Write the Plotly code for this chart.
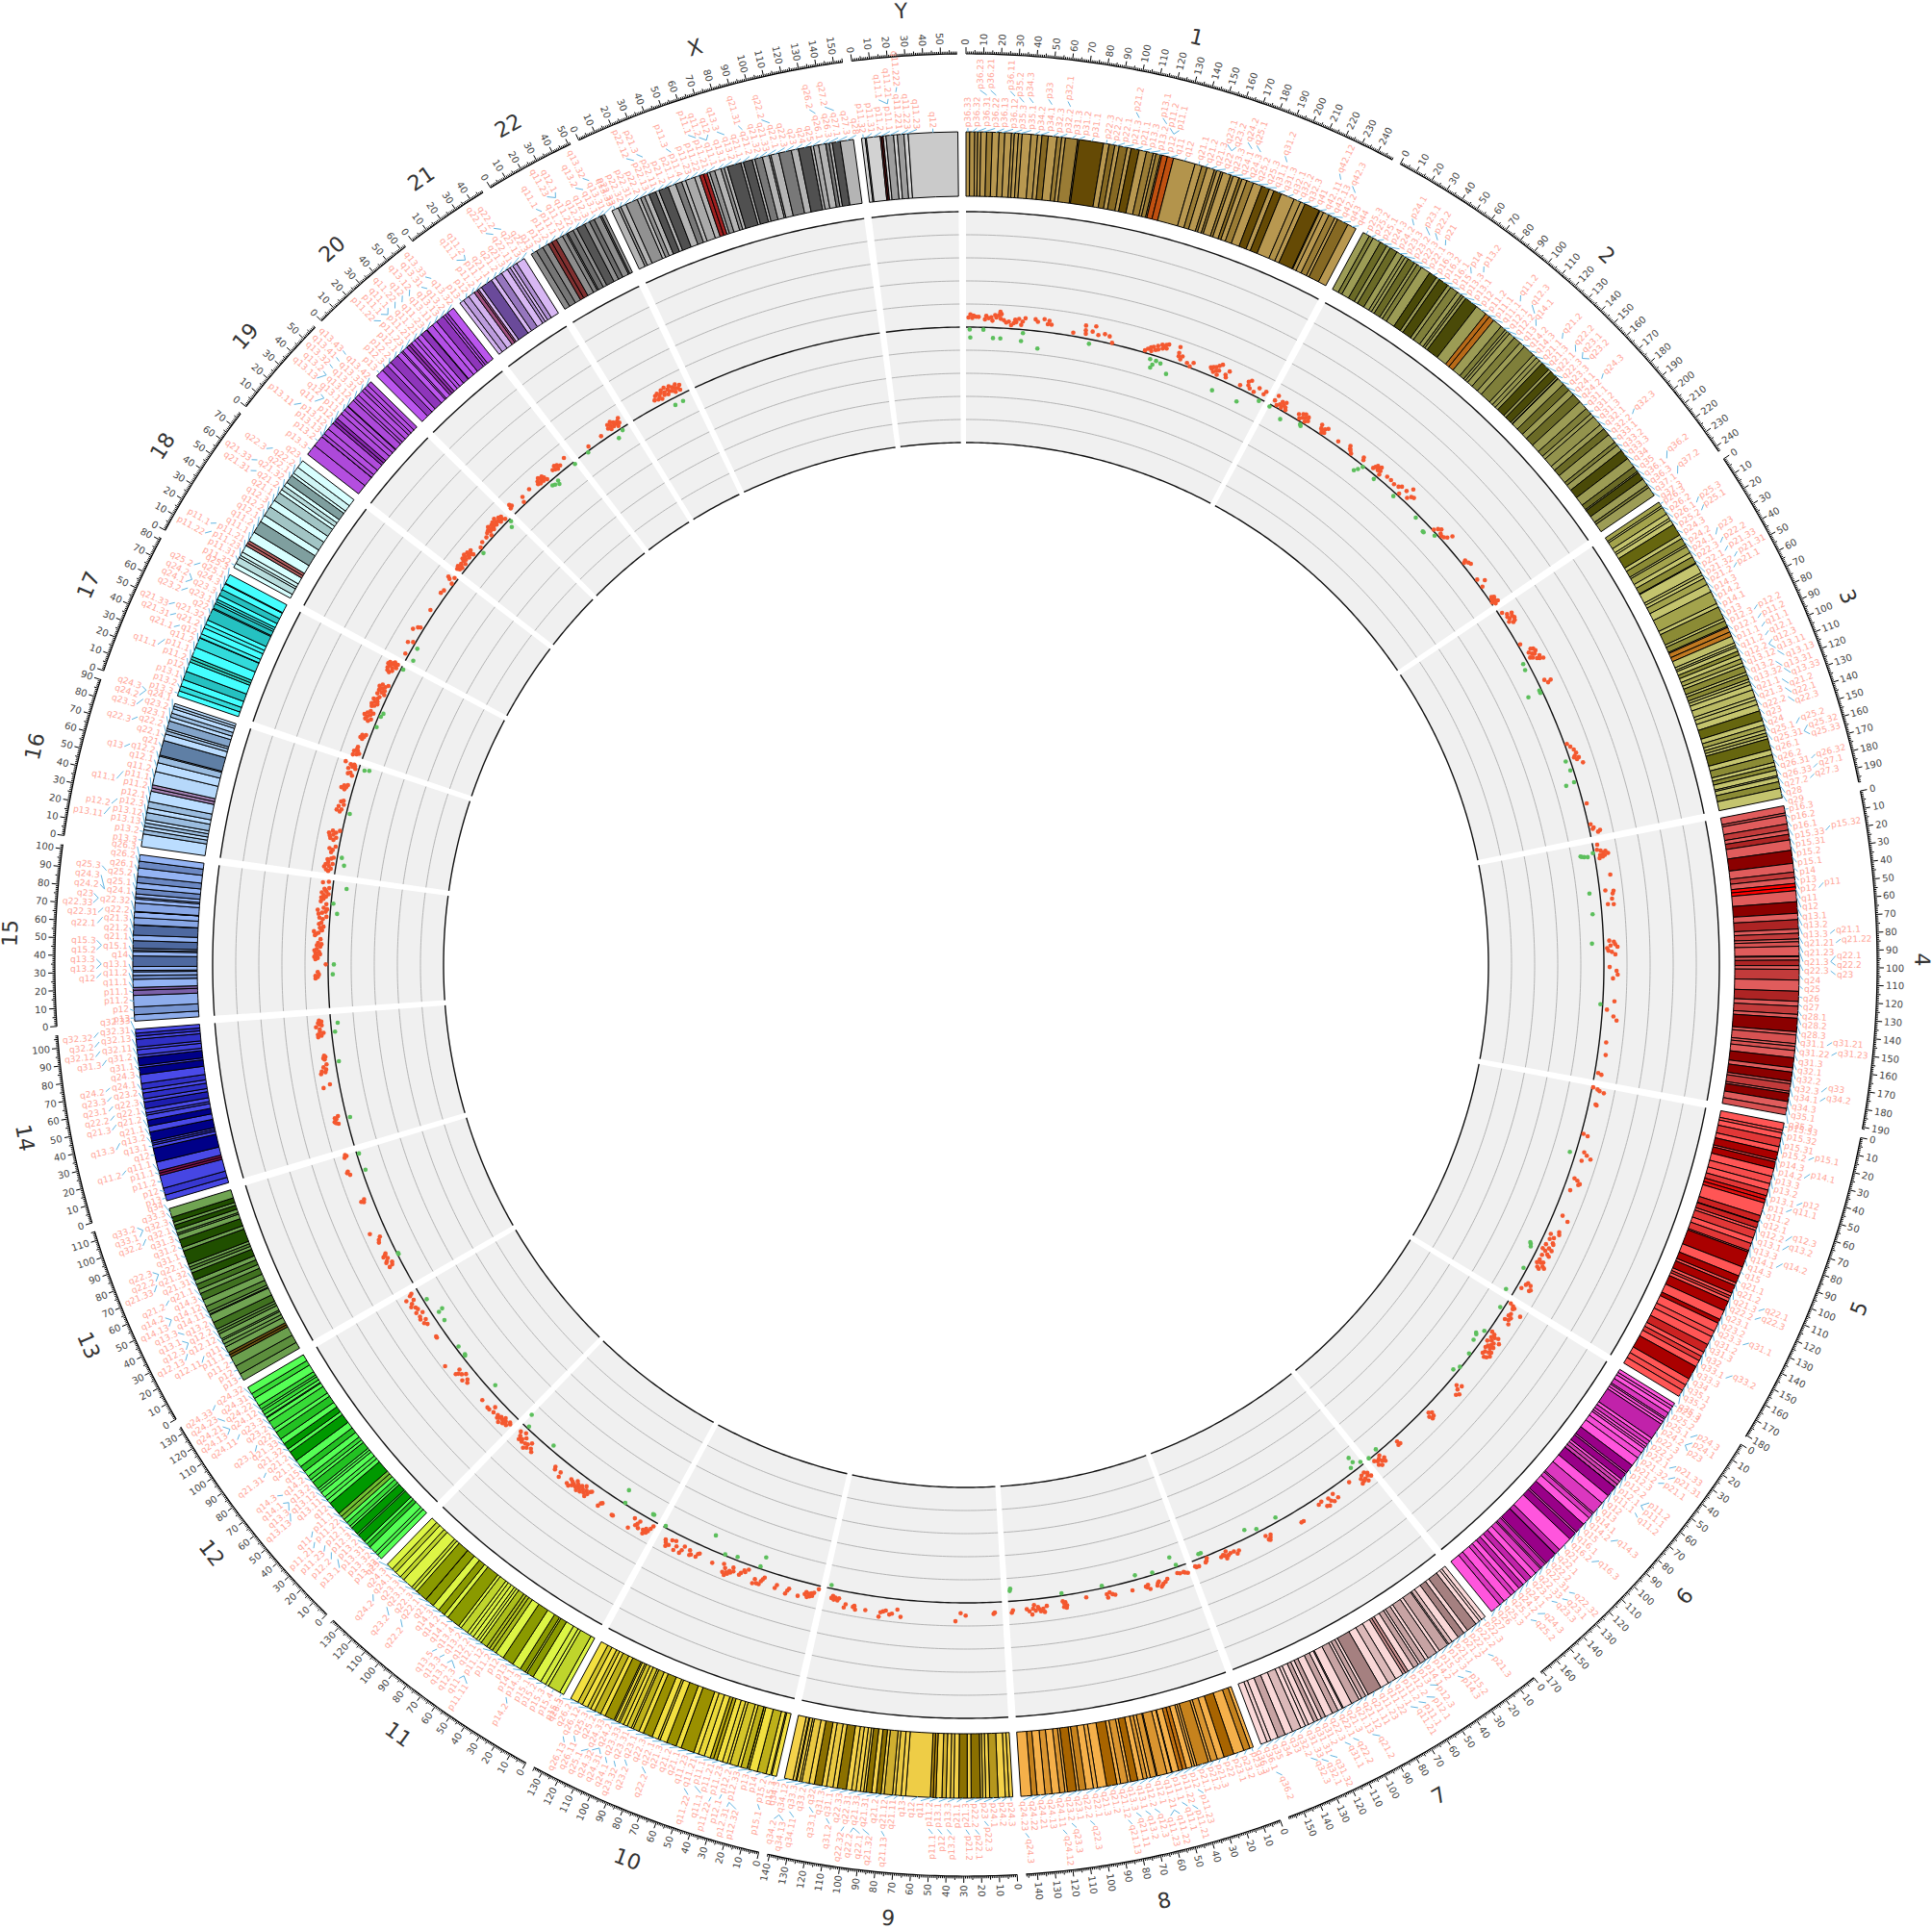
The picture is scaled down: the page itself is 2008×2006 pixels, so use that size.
import numpy as np
import plotly.graph_objects as go

CHROMS = ["1", "2", "3", "4", "5", "6", "7", "8", "9", "10", "11", "12", "13", "14", "15", "16", "17", "18", "19", "20", "21", "22", "X", "Y"]
LIGHT = ["#B89850", "#9C9C55", "#C4C46E", "#E05C5C", "#FF5555", "#FF55DD", "#FAD8D8", "#F5B04A", "#F4D24A", "#F2E040", "#DDF545", "#55FF55", "#70A452", "#4A4AE8", "#94B4F4", "#BBDDFF", "#44FFFF", "#D8FFFF", "#B44EE0", "#BB55EE", "#D8B8F4", "#8E8E8E", "#B4B4B4", "#D2D2D2"]
DARK = ["#654A05", "#4A4A08", "#66660F", "#8B0000", "#AA0000", "#990088", "#A58080", "#A86400", "#8B7000", "#9A9000", "#8A9A00", "#009900", "#204F00", "#000088", "#203868", "#5F7FA5", "#119999", "#7F9F9F", "#6E1FA0", "#70209A", "#6A4A9A", "#303030", "#505050", "#404040"]
ACEN = ["#C05010", "#B86A18", "#C07820", "#FF0000", "#E01010", "#D040B0", "#C89090", "#C07010", "#B89010", "#B8A810", "#B0C020", "#70C030", "#6A5010", "#801050", "#7A60A8", "#A080B0", "#30D0C0", "#B06060", "#8A2AB0", "#9030B0", "#A05080", "#803030", "#A02020", "#902020"]

# stain codes: 0 gneg, 25/50/75/100 gpos, -1 acen, -2 gvar, -3 stalk
NAMES_1 = "p36.33 p36.32 p36.31 p36.23 p36.22 p36.21 p36.13 p36.12 p36.11 p35.3 p35.2 p35.1 p34.3 p34.2 p34.1 p33 p32.3 p32.2 p32.1 p31.3 p31.2 p31.1 p22.3 p22.2 p22.1 p21.3 p21.2 p21.1 p13.3 p13.2 p13.1 p12 p11.2 p11.1 q11 q12 q21.1 q21.2 q21.3 q22 q23.1 q23.2 q23.3 q24.1 q24.2 q24.3 q25.1 q25.2 q25.3 q31.1 q31.2 q31.3 q32.1 q32.2 q32.3 q41 q42.11 q42.12 q42.13 q42.2 q42.3 q43 q44".split()
ENDS_1 = [2.3, 5.4, 7.2, 9.2, 12.7, 16.2, 20.4, 23.9, 28.0, 29.8, 32.3, 34.6, 40.1, 44.1, 46.8, 50.7, 56.1, 59.0, 61.3, 68.9, 69.7, 84.9, 88.4, 92.0, 94.7, 99.7, 102.2, 107.2, 111.8, 116.1, 117.8, 120.6, 121.5, 125.0, 128.9, 142.6, 147.0, 150.3, 155.0, 156.5, 159.1, 160.5, 165.5, 167.2, 170.9, 172.9, 176.0, 180.3, 185.8, 190.8, 193.8, 198.7, 207.2, 211.5, 214.5, 224.1, 224.6, 227.0, 230.7, 234.7, 236.6, 243.7, 249.25]
STAIN_1 = [0, 25, 0, 25, 0, 50, 0, 25, 0, 25, 0, 25, 0, 25, 0, 75, 0, 50, 0, 50, 0, 100, 0, 75, 0, 75, 0, 100, 0, 50, 0, 50, 0, -1, -1, -2, 0, 50, 0, 50, 0, 50, 0, 50, 0, 75, 0, 50, 0, 100, 0, 100, 0, 25, 0, 100, 0, 25, 0, 50, 0, 75, 0]
NAMES_2 = "p25.3 p25.2 p25.1 p24.3 p24.2 p24.1 p23.3 p23.2 p23.1 p22.3 p22.2 p22.1 p21 p16.3 p16.2 p16.1 p15 p14 p13.3 p13.2 p13.1 p12 p11.2 p11.1 q11.1 q11.2 q12.1 q12.2 q12.3 q13 q14.1 q14.2 q14.3 q21.1 q21.2 q21.3 q22.1 q22.2 q22.3 q23.1 q23.2 q23.3 q24.1 q24.2 q24.3 q31.1 q31.2 q31.3 q32.1 q32.2 q32.3 q33.1 q33.2 q33.3 q34 q35 q36.1 q36.2 q36.3 q37.1 q37.2 q37.3".split()
ENDS_2 = [4.4, 7.1, 12.2, 16.7, 19.2, 24.0, 27.9, 30.0, 32.1, 36.6, 38.6, 41.8, 47.8, 52.9, 55.0, 61.3, 63.6, 68.7, 71.5, 73.0, 75.0, 83.3, 90.5, 93.3, 96.8, 102.7, 106.0, 107.5, 109.5, 113.4, 118.1, 121.6, 129.1, 131.7, 134.3, 136.6, 142.2, 144.0, 148.7, 149.9, 150.3, 154.9, 159.8, 163.7, 169.7, 175.4, 179.6, 182.1, 188.5, 191.9, 196.6, 202.5, 204.9, 209.0, 215.3, 221.5, 225.2, 226.1, 231.0, 235.6, 237.3, 243.2]
STAIN_2 = [0, 50, 0, 75, 0, 75, 0, 25, 0, 75, 0, 50, 0, 100, 0, 100, 0, 50, 0, 50, 0, 100, 0, -1, -1, 0, 50, 0, 25, 0, 50, 0, 50, 0, 25, 0, 100, 0, 100, 0, 25, 0, 75, 0, 75, 0, 50, 0, 25, 0, 75, 0, 50, 0, 100, 0, 75, 0, 100, 0, 50, 0]
NAMES_3 = "p26.3 p26.2 p26.1 p25.3 p25.2 p25.1 p24.3 p24.2 p24.1 p23 p22.3 p22.2 p22.1 p21.33 p21.32 p21.31 p21.2 p21.1 p14.3 p14.2 p14.1 p13 p12.3 p12.2 p12.1 p11.2 p11.1 q11.1 q11.2 q12.1 q12.2 q12.3 q13.11 q13.12 q13.13 q13.2 q13.31 q13.32 q13.33 q21.1 q21.2 q21.3 q22.1 q22.2 q22.3 q23 q24 q25.1 q25.2 q25.31 q25.32 q25.33 q26.1 q26.2 q26.31 q26.32 q26.33 q27.1 q27.2 q27.3 q28 q29".split()
ENDS_3 = [2.8, 4.0, 8.7, 11.8, 13.3, 16.4, 23.9, 26.4, 30.9, 32.1, 36.5, 39.4, 43.7, 44.1, 44.2, 50.6, 52.3, 54.4, 58.6, 63.7, 71.8, 74.2, 81.8, 83.5, 87.2, 87.9, 91.0, 93.9, 98.3, 100.0, 101.2, 103.8, 106.2, 108.9, 111.6, 113.7, 117.6, 119.3, 122.2, 123.8, 125.8, 129.2, 133.7, 135.7, 138.7, 142.8, 148.9, 152.1, 155.0, 157.0, 159.0, 160.7, 167.6, 170.9, 175.7, 178.0, 180.6, 184.0, 185.0, 187.9, 192.0, 198.0]
STAIN_3 = [50, 0, 50, 0, 25, 0, 100, 0, 75, 0, 50, 0, 75, 0, 25, 0, 25, 0, 50, 0, 50, 0, 75, 0, 75, 0, -1, -1, -2, 0, 25, 0, 75, 0, 50, 0, 75, 0, 75, 0, 25, 0, 25, 0, 25, 0, 100, 0, 50, 0, 50, 0, 100, 0, 75, 0, 75, 0, 25, 0, 75, 0]
NAMES_4 = "p16.3 p16.2 p16.1 p15.33 p15.32 p15.31 p15.2 p15.1 p14 p13 p12 p11 q11 q12 q13.1 q13.2 q13.3 q21.1 q21.21 q21.22 q21.23 q21.3 q22.1 q22.2 q22.3 q23 q24 q25 q26 q27 q28.1 q28.2 q28.3 q31.1 q31.21 q31.22 q31.23 q31.3 q32.1 q32.2 q32.3 q33 q34.1 q34.2 q34.3 q35.1 q35.2".split()
ENDS_4 = [4.5, 6.0, 11.3, 15.2, 17.8, 21.3, 27.7, 35.8, 41.2, 44.6, 48.2, 50.4, 52.7, 59.5, 66.6, 70.5, 76.3, 78.9, 82.4, 84.1, 86.9, 92.8, 93.3, 95.4, 98.8, 101.1, 107.7, 114.6, 120.8, 123.8, 128.8, 131.2, 139.5, 141.5, 146.8, 148.5, 151.1, 155.6, 161.8, 164.5, 170.1, 171.7, 176.3, 177.6, 182.7, 187.1, 191.0]
STAIN_4 = [0, 25, 0, 50, 0, 75, 0, 100, 0, 50, 0, -1, -1, 0, 100, 0, 75, 0, 50, 0, 25, 0, 75, 0, 75, 0, 50, 0, 75, 0, 50, 0, 100, 0, 25, 0, 25, 0, 100, 0, 100, 0, 50, 0, 100, 0, 25]
NAMES_5 = "p15.33 p15.32 p15.31 p15.2 p15.1 p14.3 p14.2 p14.1 p13.3 p13.2 p13.1 p12 p11 q11.1 q11.2 q12.1 q12.2 q12.3 q13.1 q13.2 q13.3 q14.1 q14.2 q14.3 q15 q21.1 q21.2 q21.3 q22.1 q22.2 q22.3 q23.1 q23.2 q23.3 q31.1 q31.2 q31.3 q32 q33.1 q33.2 q33.3 q34 q35.1 q35.2 q35.3".split()
ENDS_5 = [4.5, 6.3, 9.8, 15.0, 18.4, 23.3, 24.6, 28.9, 33.8, 38.4, 42.5, 46.1, 48.4, 50.7, 58.9, 62.9, 63.2, 66.7, 68.4, 73.3, 76.9, 81.5, 82.4, 92.3, 98.2, 102.8, 104.5, 109.6, 111.5, 113.1, 115.2, 121.4, 127.3, 129.9, 135.4, 139.1, 144.5, 149.8, 152.7, 155.7, 159.9, 168.5, 172.8, 176.6, 180.9]
STAIN_5 = [0, 25, 0, 50, 0, 100, 0, 100, 0, 25, 0, 50, -1, -1, 0, 75, 0, 75, 0, 50, 0, 50, 0, 100, 0, 100, 0, 100, 0, 50, 0, 100, 0, 100, 0, 25, 0, 75, 0, 50, 0, 100, 0, 25, 0]
NAMES_6 = "p25.3 p25.2 p25.1 p24.3 p24.2 p24.1 p23 p22.3 p22.2 p22.1 p21.33 p21.32 p21.31 p21.2 p21.1 p12.3 p12.2 p12.1 p11.2 p11.1 q11.1 q11.2 q12 q13 q14.1 q14.2 q14.3 q15 q16.1 q16.2 q16.3 q21 q22.1 q22.2 q22.31 q22.32 q22.33 q23.1 q23.2 q23.3 q24.1 q24.2 q24.3 q25.1 q25.2 q25.3 q26 q27".split()
ENDS_6 = [2.3, 4.2, 7.1, 10.6, 11.6, 13.4, 15.2, 25.7, 27.9, 30.4, 32.1, 33.5, 36.6, 40.5, 46.2, 51.8, 52.9, 57.0, 58.7, 61.0, 63.3, 63.4, 70.0, 75.9, 83.9, 84.9, 88.0, 93.1, 99.5, 100.6, 105.5, 114.6, 118.3, 118.5, 126.1, 127.1, 130.3, 131.2, 135.2, 139.0, 142.8, 145.6, 149.0, 152.5, 155.5, 161.0, 164.5, 171.1]
STAIN_6 = [0, 25, 0, 50, 0, 25, 0, 75, 0, 50, 0, 25, 0, 25, 0, 100, 0, 100, 0, -1, -1, 0, 100, 0, 50, 0, 50, 0, 100, 0, 100, 0, 75, 0, 100, 0, 75, 0, 50, 0, 75, 0, 75, 0, 50, 0, 50, 0]
NAMES_7 = "p22.3 p22.2 p22.1 p21.3 p21.2 p21.1 p15.3 p15.2 p15.1 p14.3 p14.2 p14.1 p13 p12.3 p12.2 p12.1 p11.2 p11.1 q11.1 q11.21 q11.22 q11.23 q21.11 q21.12 q21.13 q21.2 q21.3 q22.1 q22.2 q22.3 q31.1 q31.2 q31.31 q31.32 q31.33 q32.1 q32.2 q32.3 q33 q34 q35 q36.1 q36.2 q36.3".split()
ENDS_7 = [2.8, 4.5, 7.3, 13.8, 16.5, 20.9, 25.5, 28.0, 28.8, 35.0, 37.2, 43.3, 45.4, 49.0, 50.5, 54.0, 58.0, 59.9, 61.7, 67.0, 72.2, 77.5, 86.4, 88.2, 91.1, 92.8, 98.0, 103.8, 104.5, 107.4, 111.2, 116.0, 118.7, 121.2, 123.8, 127.5, 129.6, 132.6, 138.2, 143.1, 147.9, 152.6, 155.1, 159.1]
STAIN_7 = [0, 25, 0, 100, 0, 100, 0, 50, 0, 75, 0, 75, 0, 75, 0, 75, 0, -1, -1, 0, 50, 0, 100, 0, 75, 0, 75, 0, 50, 0, 75, 0, 75, 0, 75, 0, 25, 0, 50, 0, 75, 0, 25, 0]
NAMES_8 = "p23.3 p23.2 p23.1 p22 p21.3 p21.2 p21.1 p12 p11.23 p11.22 p11.21 p11.1 q11.1 q11.21 q11.22 q11.23 q12.1 q12.2 q12.3 q13.1 q13.2 q13.3 q21.11 q21.12 q21.13 q21.2 q21.3 q22.1 q22.2 q22.3 q23.1 q23.2 q23.3 q24.11 q24.12 q24.13 q24.21 q24.22 q24.23 q24.3".split()
ENDS_8 = [2.2, 6.2, 12.7, 19.0, 23.3, 27.4, 29.0, 36.5, 38.0, 39.5, 43.1, 45.6, 48.1, 52.2, 52.6, 55.5, 61.6, 62.2, 66.0, 68.0, 70.5, 73.9, 78.3, 80.1, 84.6, 86.9, 93.3, 99.0, 101.6, 106.2, 110.5, 112.1, 117.7, 119.2, 122.5, 127.3, 131.5, 136.4, 139.9, 146.4]
STAIN_8 = [0, 75, 0, 100, 0, 50, 0, 75, 0, 25, 0, -1, -1, 0, 75, 0, 50, 0, 50, 0, 50, 0, 100, 0, 50, 0, 100, 0, 25, 0, 75, 0, 100, 0, 50, 0, 50, 0, 75, 0]
NAMES_9 = "p24.3 p24.2 p24.1 p23 p22.3 p22.2 p22.1 p21.3 p21.2 p21.1 p13.3 p13.2 p13.1 p12 p11.2 p11.1 q11 q12 q13 q21.11 q21.12 q21.13 q21.2 q21.31 q21.32 q21.33 q22.1 q22.2 q22.31 q22.32 q22.33 q31.1 q31.2 q31.3 q32 q33.1 q33.2 q33.3 q34.11 q34.12 q34.13 q34.2 q34.3".split()
ENDS_9 = [2.2, 4.6, 9.0, 14.2, 16.6, 18.5, 19.9, 25.6, 28.0, 33.2, 36.3, 38.4, 41.0, 43.6, 47.3, 49.0, 50.7, 65.9, 68.7, 72.2, 74.0, 79.2, 81.1, 84.1, 86.9, 90.4, 91.8, 93.9, 96.6, 99.3, 102.6, 108.2, 110.9, 114.9, 117.7, 122.5, 125.8, 130.3, 131.5, 133.5, 134.0, 135.9, 141.2]
STAIN_9 = [0, 25, 0, 75, 0, 25, 0, 100, 0, 100, 0, 25, 0, 50, 0, -1, -1, -2, 0, 25, 0, 50, 0, 100, 0, 100, 0, 25, 0, 25, 0, 100, 0, 25, 0, 100, 0, 25, 0, 25, 0, 25, 0]
NAMES_10 = "p15.3 p15.2 p15.1 p14 p13 p12.33 p12.32 p12.31 p12.2 p12.1 p11.23 p11.22 p11.21 p11.1 q11.1 q11.21 q11.22 q11.23 q21.1 q21.2 q21.3 q22.1 q22.2 q22.3 q23.1 q23.2 q23.31 q23.32 q23.33 q24.1 q24.2 q24.31 q24.32 q24.33 q25.1 q25.2 q25.3 q26.11 q26.12 q26.13 q26.2 q26.3".split()
ENDS_10 = [3.0, 3.8, 6.6, 12.2, 17.3, 18.6, 18.7, 22.6, 24.6, 29.6, 31.3, 34.4, 38.0, 40.2, 42.3, 46.1, 49.9, 52.9, 61.2, 64.5, 70.6, 75.0, 76.4, 80.3, 86.1, 89.0, 92.9, 94.1, 97.0, 99.3, 101.9, 103.0, 104.9, 105.8, 111.9, 114.9, 119.1, 121.7, 124.0, 127.5, 130.6, 135.5]
STAIN_10 = [0, 25, 0, 75, 0, 75, 0, 75, 0, 50, 0, 25, 0, -1, -1, 0, 25, 0, 100, 0, 100, 0, 50, 0, 100, 0, 75, 0, 50, 0, 50, 0, 25, 0, 100, 0, 75, 0, 50, 0, 50, 0]
NAMES_11 = "p15.5 p15.4 p15.3 p15.2 p15.1 p14.3 p14.2 p14.1 p13 p12 p11.2 p11.12 p11.11 q11 q12.1 q12.2 q12.3 q13.1 q13.2 q13.3 q13.4 q13.5 q14.1 q14.2 q14.3 q21 q22.1 q22.2 q22.3 q23.1 q23.2 q23.3 q24.1 q24.2 q24.3 q25".split()
ENDS_11 = [2.8, 10.7, 12.7, 16.2, 21.7, 26.1, 27.2, 31.0, 36.4, 43.5, 48.8, 51.6, 53.7, 55.7, 59.9, 61.7, 63.4, 65.9, 68.4, 70.4, 75.2, 77.1, 85.6, 88.3, 92.8, 97.2, 102.9, 103.0, 110.4, 112.5, 114.5, 121.2, 123.9, 127.8, 130.8, 135.0]
STAIN_11 = [0, 50, 0, 25, 0, 100, 0, 100, 0, 100, 0, 75, -1, -1, 75, 0, 25, 0, 25, 0, 50, 0, 100, 0, 100, 0, 100, 0, 100, 0, 50, 0, 50, 0, 50, 0]
NAMES_12 = "p13.33 p13.32 p13.31 p13.2 p13.1 p12.3 p12.2 p12.1 p11.23 p11.22 p11.21 p11.1 q11 q12 q13.11 q13.12 q13.13 q13.2 q13.3 q14.1 q14.2 q14.3 q15 q21.1 q21.2 q21.31 q21.32 q21.33 q22 q23.1 q23.2 q23.3 q24.11 q24.12 q24.13 q24.21 q24.22 q24.23 q24.31 q24.32 q24.33".split()
ENDS_12 = [3.3, 5.4, 10.1, 12.8, 14.8, 20.3, 21.3, 26.3, 27.8, 30.7, 33.3, 35.8, 38.2, 46.4, 49.1, 51.5, 54.9, 56.6, 58.1, 63.1, 65.1, 67.7, 71.5, 75.3, 79.9, 86.3, 88.6, 92.6, 96.2, 101.2, 103.8, 109.0, 111.7, 112.3, 114.3, 116.8, 118.1, 120.7, 125.9, 129.3, 133.85]
STAIN_12 = [0, 25, 0, 75, 0, 100, 0, 100, 0, 50, 0, -1, -1, 100, 0, 25, 0, 25, 0, 75, 0, 50, 0, 75, 0, 100, 0, 100, 0, 75, 0, 50, 0, 25, 0, 50, 0, 50, 0, 50, 0]
NAMES_13 = "p13 p12 p11.2 p11.1 q11 q12.11 q12.12 q12.13 q12.2 q12.3 q13.1 q13.2 q13.3 q14.11 q14.12 q14.13 q14.2 q14.3 q21.1 q21.2 q21.31 q21.32 q21.33 q22.1 q22.2 q22.3 q31.1 q31.2 q31.3 q32.1 q32.2 q32.3 q33.1 q33.2 q33.3 q34".split()
ENDS_13 = [4.5, 10.0, 16.3, 17.9, 19.5, 23.3, 25.5, 27.8, 28.9, 32.2, 34.0, 35.5, 40.1, 45.2, 45.8, 47.3, 50.9, 55.3, 59.6, 62.3, 65.7, 68.6, 73.3, 75.4, 77.2, 79.0, 87.7, 90.0, 95.0, 98.2, 99.3, 101.7, 104.5, 106.4, 109.6, 115.2]
STAIN_13 = [-2, -3, -2, -1, -1, 0, 25, 0, 25, 0, 50, 0, 75, 0, 25, 0, 50, 0, 75, 0, 75, 0, 100, 0, 50, 0, 100, 0, 100, 0, 25, 0, 100, 0, 100, 0]
NAMES_14 = "p13 p12 p11.2 p11.1 q11.1 q11.2 q12 q13.1 q13.2 q13.3 q21.1 q21.2 q21.3 q22.1 q22.2 q22.3 q23.1 q23.2 q23.3 q24.1 q24.2 q24.3 q31.1 q31.2 q31.3 q32.11 q32.12 q32.13 q32.2 q32.31 q32.32 q32.33".split()
ENDS_14 = [3.7, 8.0, 16.1, 17.6, 19.1, 24.6, 33.3, 35.3, 36.6, 37.8, 43.5, 47.2, 50.9, 54.1, 55.5, 58.1, 62.2, 64.3, 67.9, 70.2, 73.8, 79.3, 83.6, 84.9, 89.8, 91.4, 94.7, 96.3, 101.1, 103.0, 104.9, 107.35]
STAIN_14 = [-2, -3, -2, -1, -1, 0, 100, 0, 50, 0, 100, 0, 100, 0, 25, 0, 75, 0, 50, 0, 50, 0, 100, 0, 100, 0, 25, 0, 50, 0, 50, 0]
NAMES_15 = "p13 p12 p11.2 p11.1 q11.1 q11.2 q12 q13.1 q13.2 q13.3 q14 q15.1 q15.2 q15.3 q21.1 q21.2 q21.3 q22.1 q22.2 q22.31 q22.32 q22.33 q23 q24.1 q24.2 q24.3 q25.1 q25.2 q25.3 q26.1 q26.2 q26.3".split()
ENDS_15 = [3.9, 8.7, 15.8, 19.0, 20.7, 25.7, 28.1, 30.3, 31.2, 33.6, 40.1, 42.8, 43.6, 44.8, 49.5, 52.9, 59.1, 59.3, 63.7, 67.2, 67.3, 67.5, 72.7, 75.2, 76.2, 78.3, 81.7, 85.2, 89.1, 94.3, 98.5, 102.5]
STAIN_15 = [-2, -3, -2, -1, -1, 0, 50, 0, 50, 0, 75, 0, 25, 0, 75, 0, 75, 0, 25, 0, 25, 0, 25, 0, 25, 0, 50, 0, 50, 0, 50, 0]
NAMES_16 = "p13.3 p13.2 p13.13 p13.12 p13.11 p12.3 p12.2 p12.1 p11.2 p11.1 q11.1 q11.2 q12.1 q12.2 q13 q21 q22.1 q22.2 q22.3 q23.1 q23.2 q23.3 q24.1 q24.2 q24.3".split()
ENDS_16 = [7.9, 10.5, 12.6, 14.8, 16.8, 21.2, 24.2, 28.1, 34.6, 36.6, 38.6, 47.0, 52.6, 56.7, 57.4, 66.7, 70.8, 72.9, 74.2, 79.2, 81.7, 84.2, 87.1, 88.7, 90.35]
STAIN_16 = [0, 50, 0, 50, 0, 50, 0, 50, 0, -1, -1, -2, 0, 50, 0, 100, 0, 50, 0, 75, 0, 50, 0, 25, 0]
NAMES_17 = "p13.3 p13.2 p13.1 p12 p11.2 p11.1 q11.1 q11.2 q12 q21.1 q21.2 q21.31 q21.32 q21.33 q22 q23.1 q23.2 q23.3 q24.1 q24.2 q24.3 q25.1 q25.2 q25.3".split()
ENDS_17 = [3.3, 6.5, 10.7, 16.0, 22.2, 24.0, 25.8, 31.8, 38.1, 38.4, 40.9, 44.9, 47.4, 50.2, 57.6, 58.3, 61.3, 62.6, 64.2, 67.1, 70.9, 74.8, 75.3, 81.2]
STAIN_17 = [0, 50, 0, 75, 0, -1, -1, 0, 50, 0, 25, 0, 25, 0, 75, 0, 75, 0, 50, 0, 75, 0, 25, 0]
NAMES_18 = "p11.32 p11.31 p11.23 p11.22 p11.21 p11.1 q11.1 q11.2 q12.1 q12.2 q12.3 q21.1 q21.2 q21.31 q21.32 q21.33 q22.1 q22.2 q22.3 q23".split()
ENDS_18 = [2.9, 7.1, 8.5, 10.9, 15.4, 17.2, 19.0, 25.0, 32.7, 37.2, 43.5, 48.2, 53.8, 56.2, 59.0, 61.6, 66.8, 68.7, 73.1, 78.08]
STAIN_18 = [0, 50, 0, 25, 0, -1, -1, 0, 100, 0, 75, 0, 75, 0, 50, 0, 100, 0, 25, 0]
NAMES_19 = "p13.3 p13.2 p13.13 p13.12 p13.11 p12 p11 q11 q12 q13.11 q13.12 q13.13 q13.2 q13.31 q13.32 q13.33 q13.41 q13.42 q13.43".split()
ENDS_19 = [6.9, 13.9, 14.0, 16.3, 20.1, 24.6, 26.5, 28.6, 32.4, 35.5, 38.3, 38.7, 43.4, 45.2, 48.0, 51.4, 53.6, 56.3, 59.13]
STAIN_19 = [0, 25, 0, 25, 0, -2, -1, -1, -2, 0, 25, 0, 25, 0, 25, 0, 25, 0, 25]
NAMES_20 = "p13 p12.3 p12.2 p12.1 p11.23 p11.22 p11.21 p11.1 q11.1 q11.21 q11.22 q11.23 q12 q13.11 q13.12 q13.13 q13.2 q13.31 q13.32 q13.33".split()
ENDS_20 = [5.1, 9.2, 12.1, 17.9, 21.3, 22.3, 25.6, 27.5, 29.4, 32.1, 34.4, 37.6, 41.7, 42.1, 46.4, 49.8, 55.0, 56.5, 58.4, 63.03]
STAIN_20 = [0, 75, 0, 75, 0, 25, 0, -1, -1, 0, 25, 0, 75, 0, 25, 0, 75, 0, 50, 0]
NAMES_21 = "p13 p12 p11.2 p11.1 q11.1 q11.2 q21.1 q21.2 q21.3 q22.11 q22.12 q22.13 q22.2 q22.3".split()
ENDS_21 = [2.8, 6.8, 10.9, 13.2, 14.3, 16.4, 24.0, 26.8, 31.5, 35.8, 37.8, 39.7, 42.6, 48.13]
STAIN_21 = [-2, -3, -2, -1, -1, 0, 100, 0, 75, 0, 50, 0, 50, 0]
NAMES_22 = "p13 p12 p11.2 p11.1 q11.1 q11.21 q11.22 q11.23 q12.1 q12.2 q12.3 q13.1 q13.2 q13.31 q13.32 q13.33".split()
ENDS_22 = [3.8, 8.3, 12.2, 14.7, 17.9, 22.2, 25.0, 25.9, 29.6, 32.2, 37.6, 41.0, 44.2, 48.4, 49.4, 51.3]
STAIN_22 = [-2, -3, -2, -1, -1, 0, 25, 0, 50, 0, 75, 0, 50, 0, 50, 0]
NAMES_X = "p22.33 p22.32 p22.31 p22.2 p22.13 p22.12 p22.11 p21.3 p21.2 p21.1 p11.4 p11.3 p11.23 p11.22 p11.21 p11.1 q11.1 q11.2 q12 q13.1 q13.2 q13.3 q21.1 q21.2 q21.31 q21.32 q21.33 q22.1 q22.2 q22.3 q23 q24 q25 q26.1 q26.2 q26.3 q27.1 q27.2 q27.3 q28".split()
ENDS_X = [4.3, 6.0, 9.5, 17.1, 19.3, 21.9, 24.9, 29.3, 31.5, 37.6, 42.4, 46.4, 49.0, 54.8, 58.1, 60.6, 63.0, 64.6, 67.8, 71.8, 73.9, 76.0, 84.6, 86.2, 91.8, 93.5, 98.3, 102.6, 103.7, 108.7, 116.5, 120.9, 128.7, 130.4, 133.6, 138.0, 140.3, 142.1, 147.1, 155.27]
STAIN_X = [0, 50, 0, 50, 0, 50, 0, 100, 0, 100, 0, 75, 0, 25, 0, -1, -1, 0, 50, 0, 50, 0, 100, 0, 100, 0, 75, 0, 50, 0, 75, 0, 100, 0, 25, 0, 75, 0, 100, 0]
NAMES_Y = "p11.32 p11.31 p11.2 p11.1 q11.1 q11.21 q11.221 q11.222 q11.223 q11.23 q12".split()
ENDS_Y = [2.3, 3.0, 11.6, 12.5, 13.4, 15.1, 19.8, 22.1, 26.2, 28.8, 59.37]
STAIN_Y = [0, 50, 0, -1, -1, 0, 50, 0, 50, 0, -2]

BAND_NAMES = [NAMES_1, NAMES_2, NAMES_3, NAMES_4, NAMES_5, NAMES_6, NAMES_7, NAMES_8, NAMES_9, NAMES_10, NAMES_11, NAMES_12, NAMES_13, NAMES_14, NAMES_15, NAMES_16, NAMES_17, NAMES_18, NAMES_19, NAMES_20, NAMES_21, NAMES_22, NAMES_X, NAMES_Y]
BAND_ENDS = [ENDS_1, ENDS_2, ENDS_3, ENDS_4, ENDS_5, ENDS_6, ENDS_7, ENDS_8, ENDS_9, ENDS_10, ENDS_11, ENDS_12, ENDS_13, ENDS_14, ENDS_15, ENDS_16, ENDS_17, ENDS_18, ENDS_19, ENDS_20, ENDS_21, ENDS_22, ENDS_X, ENDS_Y]
BAND_STAIN = [STAIN_1, STAIN_2, STAIN_3, STAIN_4, STAIN_5, STAIN_6, STAIN_7, STAIN_8, STAIN_9, STAIN_10, STAIN_11, STAIN_12, STAIN_13, STAIN_14, STAIN_15, STAIN_16, STAIN_17, STAIN_18, STAIN_19, STAIN_20, STAIN_21, STAIN_22, STAIN_X, STAIN_Y]

# scatter track, (position in Mb, score)
RED_1 = [(2, .42), (3.5, .55), (5, .4), (6, .5), (8, .45), (10, .45), (15, .35), (16, .5), (18, .4), (20, .45), (21, .3), (23, .55), (24, .45), (26, .55), (27, .7), (27.5, .4), (28, .6), (30, .35), (32, .25), (34, .3), (36, .15), (38, .25), (39, .4), (40, .3), (42, .45), (44, .2), (45, .35), (47, .5), (55, .5), (57, .4), (62, .55), (65, .35), (66, .5), (68, .35), (86, .15), (95, .55), (95.5, .35), (96, .2), (101, .35), (103, .6), (106, .25), (111, .35), (115, .3), (118, .05), (145, .1), (147, .2), (149, .3), (150, .15), (151, .35), (153, .25), (154, .45), (155, .3), (157, .55), (158, .4), (159, .5), (160, .6), (161, .45), (162, .65), (171, .7), (171.5, .45), (172, .3), (174, .2), (175, .35), (180, .15), (183, .05), (185, .25), (199, .35), (200, .3), (201, .4), (202, .2), (203, .45), (204, .3), (205, .55), (205.5, .15), (206, .35), (207, .65), (212, .3), (213, .2), (214, .5), (226, .15), (231, .45), (232, .3), (233, .55), (234, .2), (238, .15), (241, .4), (246, .25), (247, .4)]
RED_2 = [(2, .25), (3, .5), (5, .1), (7, .2), (8, .35), (9, .1), (10, .25), (11, .4), (12, .2), (13, .1), (24, .25), (26, .1), (27, .35), (28, .2), (29, .4), (30, .25), (31, .1), (32, .35), (33, .2), (44, .4), (45, .25), (46, .2), (47, .1), (48, .3), (49, .15), (50, .4), (62, .2), (72, .35), (73, .25), (74, .2), (76, .1), (86, .3), (87, .2), (97, .2), (98, .3), (99, .4), (100, .35), (101, .25), (102, .45), (103, .3), (104, .15), (110, .3), (114, .3), (118, .25), (122, .3), (124, .4), (126, .1), (129, .4), (132, .65), (133, .2), (135, .35), (137, .4), (166, .05), (168, .2), (170, .3), (172, .15), (174, .1), (176, .15), (178, .25), (180, .45), (201, .2), (202, .1), (204, .25), (206, .3), (219, .1), (223, .35), (226, .1), (237, .15), (238, .25), (238.5, .1), (240, .2), (241, .05), (242, .3), (243, .15)]
RED_3 = [(4, .15), (7, .3), (8, .5), (9, .25), (10, .45), (11, .3), (12, .5), (13, .2), (14, .45), (15, .35), (33, .1), (40, .4), (41, .5), (42, .25), (43, .55), (44, .35), (45, .45), (46, .2), (47, .3), (48, .6), (49, .45), (50, .55), (51, .7), (67, .3), (69, .55), (70, .4), (121, .1), (124, .2), (127, .3), (130, .35), (132, .25), (133, .2), (134, .4), (135, .3), (139, .5), (171, .15), (188, .1), (191, .2), (192, .15), (194, .45), (195, .35)]
RED_4 = [(2, .2), (6, .15), (7, .3), (8, .5), (9, .4), (10, .6), (10.5, .25), (11, .45), (12, .35), (13, .2), (27, .55), (39, .25), (40, .6), (42, .55), (46, .5), (50, .3), (50.5, .55), (79, .25), (80, .45), (82, .5), (83, .3), (84, .6), (85, .15), (87, .2), (88, .35), (90, .5), (100, .25), (103, .55), (106, .6), (109, .4), (127, .5), (134, .2), (139, .5), (142, .65), (160, .3), (170, .35), (185, .15), (186, .3)]
RED_5 = [(1, .05), (2, .25), (3, .35), (4, .55), (14, .3), (14.5, .35), (40, .3), (39, .1), (53, .35), (55, .5), (57, .7), (60, .35), (75, .3), (76, .45), (78, .6), (79, .55), (85, .3), (106, .4), (109, .7), (119, .55), (121, .6), (123, .25), (125, .45), (127, .3), (129, .5), (130, .55), (132, .25), (134, .45), (135, .6), (136, .2), (137, .35), (139, .5), (140, .6), (141, .3), (145, .3), (146, .5), (147, .4), (148, .25), (149, .55), (150, .65), (151, .35), (152, .45), (166, .35), (167, .5), (168, .3), (170, .6), (171, .55), (172, .2)]
RED_6 = [(1, .15), (2, .3), (3, .4), (4, .35), (6, .8), (8, .4), (10, .35), (11, .5), (13, .45), (14, .3), (16, .55), (28, .15), (29, .3), (30, .55), (31, .4), (32, .25), (33, .7), (34, .35), (35, .5), (36, .2), (37, .45), (38, .6), (39, .35), (40, .5), (41, .3), (42, .65), (43, .55), (44, .4), (45, .7), (46, .35), (47, .6), (48, .5), (77, .55), (79, .35), (81, .5), (83, .7), (85, .6), (108, .35), (109, .5), (110, .25), (111, .55), (112, .4), (143, .35), (144, .2), (145, .35), (160, .35), (161, .5), (162, .15), (163, .4), (164, .25), (165, .55), (166, .3), (167, .45), (168, .2)]
RED_7 = [(1, .6), (2, .4), (3, .5), (4, .3), (5, .7), (6, .55), (7, .35), (8, .6), (9, .45), (10, .65), (18, .25), (32, .5), (34, .25), (36, .55), (38, .45), (39, .3), (41, .6), (43, .55), (45, .25), (48, .3), (65, .55), (67, .55), (93, .35), (94, .45), (95, .55), (96, .5), (97, .3), (121, .35), (123, .45), (125, .3), (128, .3), (130, .35), (131, .15), (132, .45), (133, .3), (134, .25), (136, .3), (147, .1), (148, .2), (149, .25), (155, .3), (157, .3), (158, .25)]
RED_8 = [(1, .4), (3, .35), (4, .3), (7, .3), (9, .25), (18, .35), (20, .45), (22, .5), (23, .55), (24, .6), (25, .35), (26, .4), (27, .5), (33, .55), (34, .35), (35, .45), (36, .4), (47, .4), (61, .4), (63, .35), (65, .25), (67, .45), (67.5, .3), (84, .25), (100, .45), (100.5, .55), (101, .3), (102, .35), (102.5, .5), (103, .25), (116, .35), (118, .6), (119, .45), (121, .55), (122, .45), (123, .35), (125, .5), (126, .25), (127, .4), (128, .65), (130, .5), (132, .4), (143, .4), (144, .5)]
RED_9 = [(6, .45), (7, .5), (29, .55), (33, .45), (37, .8), (80, .75), (83, .45), (87, .65), (89, .7), (92, .55), (94, .6), (96, .65), (97, .85), (108, .65), (116, .7), (117, .55), (118, .6), (124, .55), (125, .7), (130, .35), (131, .45), (132, .4), (133, .35), (134, .45), (135, .3), (136, .4)]
RED_10 = [(1, .15), (4, .35), (5, .5), (6, .4), (7, .55), (8, .45), (9, .6), (10, .4), (11, .5), (16, .65), (24, .45), (25, .55), (26, .7), (34, .45), (35, .6), (45, .3), (46, .4), (47, .5), (48, .65), (50, .65), (52, .5), (53, .7), (59, .2), (61, .35), (62, .3), (64, .45), (65, .55), (70, .5), (71, .35), (72, .6), (73, .55), (74, .7), (75, .65), (76, .8), (77, .5), (78, .7), (79, .35), (88, .5), (100, .35), (101, .4), (102, .55), (106, .55), (107, .6), (108, .4), (113, .35), (114, .55), (115, .7), (119, .5), (120, .7), (121, .3), (124, .35), (125, .6), (127, .7), (128, .55), (129, .45)]
RED_11 = [(2, .2), (3, .35), (4, .5), (5, .6), (6, .45), (7, .7), (8, .55), (12, .6), (13, .3), (14, .45), (15, .55), (18, .3), (19, .8), (34, .7), (35, .7), (46, .5), (47, .55), (48, .7), (58, .35), (59, .4), (60, .55), (61, .7), (62, .45), (63, .6), (64, .3), (65, .5), (66, .65), (67, .4), (68, .55), (69, .7), (70, .45), (71, .6), (72, .35), (73, .55), (74, .65), (75, .5), (76, .75), (77, .45), (78, .7), (86, .7), (87, .5), (92, .55), (93, .45), (115, .65), (117, .55), (119, .35), (120, .65), (121, .5), (122, .75), (123, .55), (125, .35), (126, .6), (127, .5), (128, .2), (129, .6), (130, .45), (132, .3)]
RED_12 = [(2, .4), (3, .35), (4, .55), (6, .45), (7, .6), (8, .35), (9, .5), (10, .7), (11, .45), (12, .55), (13, .6), (14, .5), (18, .55), (20, .35), (22, .6), (24, .6), (31, .55), (49, .55), (51, .45), (53, .65), (55, .35), (57, .5), (59, .6), (60, .7), (61, .45), (70, .85), (92, .4), (93, .4), (105, .4), (107, .5), (109, .35), (111, .55), (113, .5), (115, .3), (117, .55), (119, .4), (121, .45), (123, .6), (125, .5), (127, .35), (129, .65), (131, .4), (132, .3)]
RED_13 = [(20, .55), (21, .4), (23, .35), (24, .6), (25, .55), (27, .45), (29, .6), (30, .5), (31, .45), (41, .5), (43, .45), (45, .35), (50, .7), (75, .4), (76, .5), (77, .35), (99, .55), (101, .65), (102, .6), (113, .55), (114, .45), (115, .5)]
RED_14 = [(20, .4), (21, .5), (22, .55), (24, .45), (25, .5), (26, .35), (50, .7), (52, .4), (61, .7), (62, .5), (63, .65), (64, .45), (66, .55), (68, .4), (72, .45), (73, .5), (74, .4), (75, .45), (90, .6), (91, .45), (92, .6), (93, .35), (94, .5), (96, .5), (98, .65), (99, .4), (100, .5), (101, .55), (102, .4), (103, .5)]
RED_15 = [(24, .55), (25, .45), (26, .55), (27, .4), (29, .45), (35, .1), (39, .55), (40, .45), (41, .6), (42, .5), (43, .35), (44, .55), (45, .4), (46, .6), (47, .5), (49, .35), (50, .5), (51, .3), (52, .45), (55, .35), (58, .6), (59, .55), (60, .45), (61, .65), (62, .3), (63, .35), (64, .4), (65, .25), (67, .45), (68, .35), (71, .3), (72, .45), (73, .15), (75, .5), (76, .35), (77, .2), (78, .55), (79, .15), (80, .3), (83, .2), (85, .45), (87, .35), (88, .45), (89, .25), (90, .35), (91, .15), (92, .45), (93, .25), (94, .3), (95, .35), (96, .15), (100, .45), (101, .2)]
RED_16 = [(2, .3), (3, .4), (4, .2), (5, .5), (6, .3), (7, .45), (8, .15), (9, .35), (11, .4), (12, .25), (13, .15), (17, .3), (19, .25), (20, .4), (22, .15), (27, .3), (28, .45), (29, .2), (30, .5), (31, .35), (32, .55), (33, .25), (34, .4), (35, .1), (50, .3), (51, .45), (52, .25), (54, .4), (56, .2), (58, .35), (59, .25), (68, .35), (69, .5), (70, .3), (71, .4), (72, .25), (80, .2), (81, .4), (82, .3), (85, .45), (86, .15), (87, .3), (88, .2), (89, .25), (88.5, .4), (89.5, .65)]
RED_17 = [(1, .45), (2, .3), (3, .2), (4, .45), (5, .3), (6, .35), (8, .35), (15, .3), (16, .4), (17, .25), (18, .35), (19, .2), (30, .35), (31, .5), (32, .25), (33, .45), (34, .6), (35, .35), (36, .5), (37, .25), (38, .4), (42, .45), (43, .35), (44, .5), (45, .25), (46, .4), (47, .3), (48, .5), (49, .35), (51, .3), (53, .45), (54, .15), (55, .3), (56, .45), (57, .2), (58, .35), (59, .5), (60, .25), (61, .4), (62, .15), (72, .4), (73, .5), (74, .3), (75, .55), (76, .35), (77, .5), (77.5, .2), (78, .6), (78.5, .45), (79, .3), (79.5, .55), (80, .4), (80.5, .2), (81, .35)]
RED_18 = [(5, .15), (14, .3), (16, .1), (25, .4), (28, .25), (29, .15), (45, .2), (61, .25), (64, .2), (72, .1), (74, .3), (75, .4), (77, .15)]
RED_19 = [(1, .3), (2, .2), (3, .35), (4, .15), (5, .25), (6, .3), (8, .15), (9, .3), (10, .4), (11, .25), (12, .35), (13, .45), (14, .2), (15, .3), (16, .4), (17, .25), (18, .15), (19, .35), (26, .1), (30, .2), (35, .2), (38, .3), (39, .1), (40, .35), (41, .25), (42, .45), (43, .3), (44, .2), (45, .4), (46, .3), (47, .45), (48, .25), (49, .35), (50, .5), (51, .3), (52, .2), (53, .4), (54, .25), (55, .35), (56, .15)]
RED_20 = [(1, .3), (2, .45), (3, .35), (12, .1), (14, .3), (22, .35), (30, .25), (31, .35), (32, .2), (33, .45), (34, .3), (35, .2), (36, .4), (37, .3), (38, .15), (46, .3), (48, .25), (49, .4), (50, .2), (51, .35), (53, .25), (59, .4)]
RED_21 = [(12, .15), (25, .2), (33, .3), (34, .45), (35, .2), (36, .35), (37, .5), (38, .25), (39, .4), (40, .3), (41, .15), (42, .35), (43, .25), (44, .45)]
RED_22 = [(23, .3), (25, .45), (26, .25), (27, .5), (28, .35), (29, .2), (30, .45), (31, .55), (32, .3), (33, .4), (34, .6), (35, .25), (36, .45), (37, .35), (38, .55), (39, .3), (40, .45), (41, .2), (42, .35), (43, .5), (44, .3), (45, .2), (46, .4)]
GREEN_1 = [(3, -.1), (3.5, -.45), (14, -.1), (22, -.45), (28, -.45), (46, -.15), (45, -.5), (59, -.75), (100, -.2), (151, -.2), (156, -.2), (160, -.25), (154, -.4), (153, -.55), (167, -.6), (207, -.55), (229, -.55), (245, -.1)]
GREEN_2 = [(.5, -.1), (13, -.35), (29, -.1), (30, -.15), (86, -.4), (88, -.25), (90, -.05), (103, -.15), (124, -.15), (149, -.15), (161, -.35), (162, -.35), (170, -.1)]
GREEN_3 = [(48, -.2), (53, -.25), (73, -.1), (75, -.1), (74, -.65), (134, -.2), (142, -.13), (152, -.13), (153, -.5)]
GREEN_4 = [(8, -.05), (9, -.6), (9.5, -.55), (10, -.45), (10.5, -.3), (40, -.45), (57, -.4), (81, -.5), (130, -.1)]
GREEN_5 = [(56, -.25), (137, -.35), (139, -.3), (136, -.4), (157, -.15), (179, -.35)]
GREEN_6 = [(8, -.15), (31, -.15), (36, -.4), (37, -.35), (42, -.3), (53, -.1), (66, -.05), (71, -.2), (161, -.15), (170, -.05)]
GREEN_7 = [(1, -.15), (6, -.35), (6.5, -.6), (10, -.2), (83, -.2), (101, -.15), (110, -.35), (150, -.2), (152, -.2)]
GREEN_8 = [(8, -.1), (11, -.5), (28, -.1), (42, -.2), (70, -.1), (103, -.1), (144, -.55), (144.5, -.45)]
GREEN_9 = [(138, -.15)]
GREEN_10 = [(49, -.55), (51, -.1), (71, -.15), (81, -.05), (94, -.65), (134, -.07)]
GREEN_11 = [(6, -.25), (7, -.25), (31, -.05), (34, -.6), (105, -.2), (130, -.1), (135, -.55)]
GREEN_12 = [(33, -.3), (67, -.12), (68, -.15), (76, -.13), (100, -.3), (108, -.3), (109, -.5), (122, -.15)]
GREEN_13 = [(26, -.05), (27, -.05), (99, -.15), (113, -.1)]
GREEN_14 = [(23, -.15), (69, -.15), (93, -.15), (100, -.3)]
GREEN_15 = [(27, -.2), (35, -.25), (76, -.3), (84, -.1), (97, -.6)]
GREEN_16 = [(8, -.35), (14, -.2), (50, -.15), (87, -.25), (88, -.45)]
GREEN_17 = [(28, -.1), (37, -.1), (40, -.15), (79, -.1)]
GREEN_18 = [(3, -.3), (13, -.2)]
GREEN_19 = [(24, -.15), (55, -.3), (58, -.1)]
GREEN_20 = [(38, -.2), (40, -.25), (43, -.35), (44, -.2), (63, -.1)]
GREEN_21 = [(9, -.05), (36, -.3), (42, -.1)]
GREEN_22 = [(36, -.3), (43, -.3)]
RED = [RED_1, RED_2, RED_3, RED_4, RED_5, RED_6, RED_7, RED_8, RED_9, RED_10, RED_11, RED_12, RED_13, RED_14, RED_15, RED_16, RED_17, RED_18, RED_19, RED_20, RED_21, RED_22, [], []]
GREEN = [GREEN_1, GREEN_2, GREEN_3, GREEN_4, GREEN_5, GREEN_6, GREEN_7, GREEN_8, GREEN_9, GREEN_10, GREEN_11, GREEN_12, GREEN_13, GREEN_14, GREEN_15, GREEN_16, GREEN_17, GREEN_18, GREEN_19, GREEN_20, GREEN_21, GREEN_22, [], []]

WIDTH, HEIGHT = 2008, 2006
RMAX = 1003
GAP = 0.56
IDEO_IN, IDEO_OUT = 799, 866
TRACK_IN, TRACK_MID, TRACK_OUT = 543, 663, 783
TRACK_STEP = 24
TICK_R = 947
LABEL_FONT = "DejaVu Sans"

chrom_len = [e[-1] for e in BAND_ENDS]
scale = (360 - GAP * len(CHROMS)) / sum(chrom_len)
chrom_start = []
_t = 0.0
for length in chrom_len:
    chrom_start.append(_t)
    _t += length * scale + GAP


def to_theta(i, pos):
    return chrom_start[i] + pos * scale


def hex_rgb(c):
    return np.array([int(c[k:k + 2], 16) for k in (1, 3, 5)], dtype=float)


def band_color(i, stain):
    if stain == -1:
        return ACEN[i]
    f = {0: 0, 25: .1, 50: .35, 75: .6, 100: 1, -2: .05, -3: .25}[stain]
    c = hex_rgb(LIGHT[i]) * (1 - f) + hex_rgb(DARK[i]) * f
    return "rgb(%d,%d,%d)" % tuple(c)


def text_width(s, size):
    return sum(.318 if ch == "." else .636 for ch in s) * size


def radial_text(s, theta, r0, size, color):
    # text starts at radius r0 and runs outward, flipped on the left half
    r = r0 + text_width(s, size) / 2
    a = np.radians(theta)
    angle = theta - 90 if theta % 360 < 180 else theta - 270
    return dict(x=(WIDTH / 2 + r * np.sin(a)) / WIDTH, y=(HEIGHT / 2 + r * np.cos(a)) / HEIGHT,
                xref="paper", yref="paper", text=s, showarrow=False, textangle=angle,
                xanchor="center", yanchor="middle", borderpad=0,
                font=dict(family=LABEL_FONT, size=size, color=color))


fig = go.Figure()
annotations = []

# track background
fig.add_trace(go.Barpolar(
    theta=[to_theta(i, l / 2) for i, l in enumerate(chrom_len)],
    width=[l * scale for l in chrom_len],
    r=[TRACK_OUT - TRACK_IN] * len(CHROMS), base=[TRACK_IN] * len(CHROMS),
    marker=dict(color="#f0f0f0", line=dict(width=0)), hoverinfo="skip", showlegend=False))

# ideogram
th, wd, col = [], [], []
for i in range(len(CHROMS)):
    starts = [0] + BAND_ENDS[i][:-1]
    for s, e, st in zip(starts, BAND_ENDS[i], BAND_STAIN[i]):
        th.append(to_theta(i, (s + e) / 2))
        wd.append((e - s) * scale)
        col.append(band_color(i, st))
fig.add_trace(go.Barpolar(
    theta=th, width=wd, r=[IDEO_OUT - IDEO_IN] * len(th), base=[IDEO_IN] * len(th),
    marker=dict(color=col, line=dict(color="black", width=1.0)), hoverinfo="skip", showlegend=False))


def arc_trace(radii, color, width):
    ts, rs = [], []
    for r in radii:
        for i, l in enumerate(chrom_len):
            t = np.linspace(to_theta(i, 0), to_theta(i, l), max(int(l * scale * 3), 2))
            ts += list(t) + [None]
            rs += [r] * len(t) + [None]
    return go.Scatterpolar(theta=ts, r=rs, mode="lines", line=dict(color=color, width=width),
                           hoverinfo="skip", showlegend=False)


gray_r = [TRACK_IN + k * TRACK_STEP for k in range(1, 10) if k != 5]
fig.add_trace(arc_trace(gray_r, "#b4b4b4", 1))
fig.add_trace(arc_trace([TRACK_IN, TRACK_MID, TRACK_OUT], "#111111", 1.4))
fig.add_trace(arc_trace([TICK_R], "black", 1.2))

# scatter points
for pts, color in ((GREEN, "#5CBF5C"), (RED, "#F4582F")):
    ts, rs = [], []
    for i, chrom_pts in enumerate(pts):
        for pos, val in chrom_pts:
            ts.append(to_theta(i, pos))
            rs.append(TRACK_MID + val * TRACK_STEP)
    fig.add_trace(go.Scatterpolar(theta=ts, r=rs, mode="markers", marker=dict(color=color, size=4.6),
                                  hoverinfo="skip", showlegend=False))

# genome scale ticks
tick_th, tick_r = [], []
for i, l in enumerate(chrom_len):
    for mb in range(0, int(l) + 1):
        top = TICK_R + (7 if mb % 10 == 0 else 4 if mb % 5 == 0 else 2.5)
        tick_th += [to_theta(i, mb)] * 2 + [None]
        tick_r += [TICK_R, top, None]
    for mb in range(0, int(l) + 1, 10):
        annotations.append(radial_text(str(mb), to_theta(i, mb), 956, 10, "#444444"))
fig.add_trace(go.Scatterpolar(theta=tick_th, r=tick_r, mode="lines", line=dict(color="black", width=1),
                              hoverinfo="skip", showlegend=False))

# band labels with blue connectors, crowded ones go to a second tier
LABEL_SIZE = 9
LABEL_COLOR = "#FFA598"
SEP = 0.62
conn_th, conn_r = [], []
for i in range(len(CHROMS)):
    starts = [0] + BAND_ENDS[i][:-1]
    last1 = last2 = -1e9
    prev_w = 24
    for s, e, name in zip(starts, BAND_ENDS[i], BAND_NAMES[i]):
        center = to_theta(i, (s + e) / 2)
        pos1 = max(center, last1 + SEP)
        if pos1 - center <= 0.8:
            annotations.append(radial_text(name, pos1, 871, LABEL_SIZE, LABEL_COLOR))
            conn_th += [center, pos1, None]
            conn_r += [IDEO_OUT, 870, None]
            last1 = pos1
            prev_w = text_width(name, LABEL_SIZE)
        else:
            pos2 = max(center, last2 + SEP)
            r2 = 871 + prev_w + 8
            annotations.append(radial_text(name, pos2, r2, LABEL_SIZE, LABEL_COLOR))
            conn_th += [last1, pos2, None]
            conn_r += [r2 - 6, r2 - 1, None]
            last2 = pos2
fig.add_trace(go.Scatterpolar(theta=conn_th, r=conn_r, mode="lines", line=dict(color="#63B4E0", width=1),
                              hoverinfo="skip", showlegend=False))

# chromosome names
for i, name in enumerate(CHROMS):
    t = to_theta(i, chrom_len[i] / 2)
    a = np.radians(t)
    r = 994
    angle = t if (t < 90 or t > 270) else t - 180
    annotations.append(dict(x=(WIDTH / 2 + r * np.sin(a)) / WIDTH, y=(HEIGHT / 2 + r * np.cos(a)) / HEIGHT,
                            xref="paper", yref="paper", text=name, showarrow=False, textangle=angle,
                            xanchor="center", yanchor="middle",
                            font=dict(family=LABEL_FONT, size=22, color="#333333")))

fig.update_layout(
    width=WIDTH, height=HEIGHT, margin=dict(l=0, r=0, t=0, b=0), paper_bgcolor="white",
    showlegend=False, annotations=annotations,
    polar=dict(
        domain=dict(x=[0, 1], y=[0, 1]), bgcolor="white", barmode="overlay", bargap=0,
        radialaxis=dict(visible=False, range=[0, RMAX]),
        angularaxis=dict(visible=False, direction="clockwise", rotation=90, thetaunit="degrees"),
    ),
)

# the default page margin would push the circle off the canvas
fig.write_html("out.html", config={"displayModeBar": False},
               post_script="document.body.style.margin = '0';")
